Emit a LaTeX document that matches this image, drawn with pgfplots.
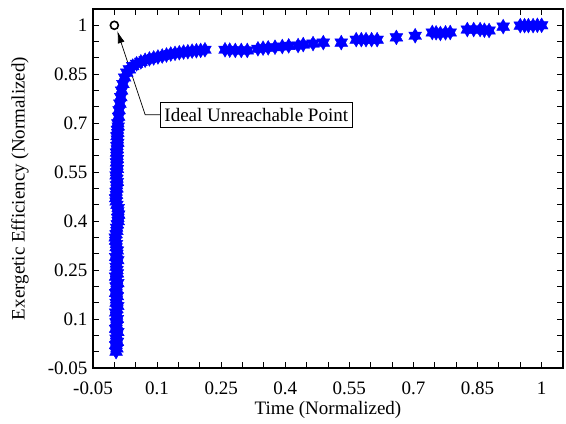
\documentclass[border=0pt]{standalone}
\usepackage{fontspec}
\setmainfont{Liberation Serif}
\usepackage{pgfplots}
\pgfplotsset{compat=1.18}
\usetikzlibrary{arrows.meta}
\pgfdeclareplotmark{hexagram}{%
  \pgfpathmoveto{\pgfpointpolar{90}{\pgfplotmarksize}}%
  \pgfpathlineto{\pgfpointpolar{210}{\pgfplotmarksize}}%
  \pgfpathlineto{\pgfpointpolar{330}{\pgfplotmarksize}}%
  \pgfpathclose
  \pgfpathmoveto{\pgfpointpolar{270}{\pgfplotmarksize}}%
  \pgfpathlineto{\pgfpointpolar{30}{\pgfplotmarksize}}%
  \pgfpathlineto{\pgfpointpolar{150}{\pgfplotmarksize}}%
  \pgfpathclose
  \pgfusepathqfillstroke}
\begin{document}
\begin{tikzpicture}
\begin{axis}[
  scale only axis, width=470pt, height=359pt,
  xmin=-0.05, xmax=1.05, ymin=-0.05, ymax=1.05,
  axis line style={line width=1.2pt},
  every tick/.style={black, line width=1pt},
  major tick length=6pt, minor tick length=6pt,
  xtick={-0.05,0.1,0.25,0.4,0.55,0.7,0.85,1},
  xticklabels={-0.05,0.1,0.25,0.4,0.55,0.7,0.85,1},
  minor xtick={0,0.05,0.15,0.2,0.3,0.35,0.45,0.5,0.6,0.65,0.75,0.8,0.9,0.95},
  ytick={-0.05,0.1,0.25,0.4,0.55,0.7,0.85,1},
  yticklabels={-0.05,0.1,0.25,0.4,0.55,0.7,0.85,1},
  minor ytick={0,0.05,0.15,0.2,0.3,0.35,0.45,0.5,0.6,0.65,0.75,0.8,0.9,0.95},
  tick label style={font=\fontsize{19}{22}\selectfont},
  label style={font=\fontsize{19}{22}\selectfont},
  xticklabel style={anchor=center, yshift=-20pt},
  yticklabel style={xshift=-2pt},
  xlabel={Time (Normalized)},
  ylabel={Exergetic Efficiency (Normalized)},
  xlabel style={at={(axis description cs:0.5,0)}, anchor=center, yshift=-42pt},
  ylabel style={at={(axis description cs:0,0.5)}, anchor=center, yshift=73pt},
]
\addplot[only marks, mark=hexagram, mark size=7.4pt, color=blue, mark options={fill=blue, line width=0.4pt}] coordinates {
(0.004,0.00)(0.006,0.01)(0.003,0.02)(0.007,0.03)(0.004,0.04)(0.005,0.05)(0.008,0.06)(0.003,0.07)(0.006,0.08)(0.004,0.09)
(0.007,0.10)(0.005,0.11)(0.003,0.12)(0.006,0.13)(0.008,0.14)(0.004,0.15)(0.005,0.16)(0.007,0.17)(0.003,0.18)(0.006,0.19)
(0.004,0.20)(0.008,0.21)(0.005,0.22)(0.003,0.23)(0.007,0.24)(0.006,0.25)(0.004,0.26)(0.005,0.27)(0.008,0.28)(0.003,0.29)
(0.006,0.30)(0.007,0.31)(0.004,0.32)(0.005,0.33)(0.003,0.34)(0.002,0.35)(0.004,0.36)(0.006,0.37)(0.005,0.38)(0.007,0.39)
(0.009,0.40)(0.008,0.41)(0.010,0.42)(0.008,0.43)(0.009,0.44)(0.006,0.45)(0.004,0.46)(0.003,0.47)(0.005,0.48)(0.004,0.49)
(0.006,0.50)(0.005,0.51)(0.007,0.52)(0.006,0.53)(0.004,0.54)(0.005,0.55)(0.007,0.56)(0.006,0.57)(0.005,0.58)(0.007,0.59)
(0.006,0.60)(0.005,0.61)(0.007,0.62)(0.006,0.63)(0.008,0.64)(0.007,0.65)(0.006,0.66)(0.008,0.67)(0.007,0.68)(0.009,0.69)
(0.008,0.70)(0.010,0.72)(0.011,0.74)(0.013,0.76)(0.015,0.78)(0.017,0.80)(0.020,0.82)(0.024,0.84)(0.029,0.855)(0.035,0.865)
(0.043,0.875)(0.052,0.882)(0.062,0.888)(0.072,0.893)(0.082,0.897)(0.092,0.900)(0.102,0.903)(0.112,0.906)(0.122,0.909)
(0.132,0.912)(0.142,0.914)(0.152,0.916)(0.162,0.918)(0.172,0.919)(0.182,0.921)(0.192,0.922)(0.202,0.923)(0.212,0.925)
(0.259,0.925)(0.270,0.924)(0.283,0.923)(0.297,0.923)(0.311,0.923)(0.336,0.928)(0.348,0.930)(0.360,0.931)(0.376,0.933)
(0.393,0.935)(0.408,0.937)(0.430,0.938)(0.442,0.941)(0.465,0.944)(0.489,0.947)(0.531,0.947)(0.566,0.956)(0.578,0.956)
(0.589,0.956)(0.602,0.956)(0.615,0.956)(0.660,0.963)(0.704,0.968)(0.744,0.978)(0.753,0.977)(0.763,0.975)(0.775,0.977)
(0.786,0.978)(0.826,0.987)(0.841,0.987)(0.856,0.987)(0.866,0.985)(0.877,0.984)(0.910,0.996)(0.950,0.999)(0.960,0.999)
(0.969,0.999)(0.980,0.999)(0.990,1.000)(1.000,1.000)
};
\addplot[only marks, mark=o, mark size=4pt, black, mark options={line width=1.6pt}] coordinates {(0,1)};
\draw[line width=0.7pt, -{Latex[length=12pt,width=7pt]}] (axis cs:0.107,0.726) -- (axis cs:0.072,0.726) -- (axis cs:0.007,0.982);
\node[draw, fill=white, anchor=west, line width=0.8pt, inner xsep=4pt, inner ysep=6pt, font=\fontsize{19}{22}\selectfont] at (axis cs:0.107,0.726) {Ideal Unreachable Point};
\end{axis}
\pgfresetboundingbox
\path ([shift={(-93pt,-56pt)}]current axis.south west) rectangle ([shift={(3pt,9pt)}]current axis.north east);
\end{tikzpicture}
\end{document}
